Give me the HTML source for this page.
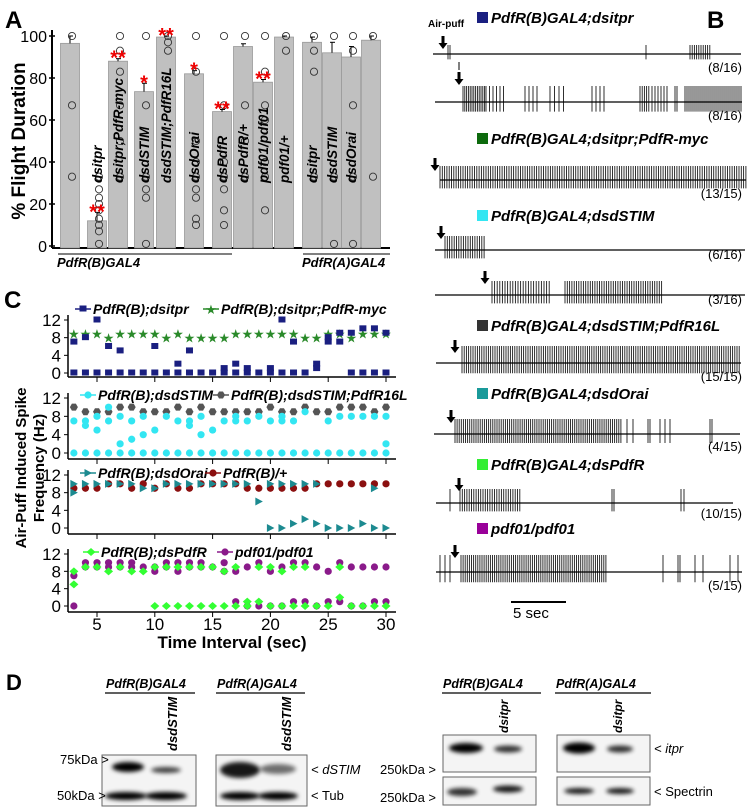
<!DOCTYPE html>
<html><head><meta charset="utf-8"><style>
body{margin:0;background:#fff}
svg{display:block;font-family:"Liberation Sans",sans-serif}
.it{font-style:italic;font-weight:bold}
</style></head><body>
<svg id="s" width="751" height="810" viewBox="0 0 751 810">
<defs>
<filter id="bl" x="-30%" y="-100%" width="160%" height="300%"><feGaussianBlur stdDeviation="2.2"/></filter>
</defs>
<g id="pA"></g>
<g id="pB"></g>
<g id="pC"></g>
<g id="pD"></g>
</svg>
<script>
// ---------- Panel A data ----------
const aLabels=["","dsitpr","dsitpr;PdfR-myc","dsdSTIM","dsdSTIM;PdfR16L","dsdOrai","dsPdfR","dsPdfR/+","pdf01/pdf01","pdf01/+","dsitpr","dsdSTIM","dsdOrai",""];
const aValues=[96.5,12,88,73.5,99.5,82,64,95,78,99.5,97,92,90,98];
const aErrors=[3.5,4,1.2,4,0.5,1.5,1,1.3,1.3,0.5,2.5,5,5,2];
const aStars=["","**","**","*","**","*","**","","**","","","","",""];
const aPoints=[[100,67,33],[33,27,23,20,17,13,10,7,1],[100,93,83,67,50,33],[100,67,33,27,23,1],[100,97,93],[100,83,50,40,33,27,23,13,10],[100,67,40,33,27,17,10],[100,67,50,33],[100,83,67,60,40,33,17],[100,93],[100,93,83,33],[100,33,1],[100,93,67,33,1],[100,33]];
const aTicks=[0,20,40,60,80,100];
// ---------- Panel C data ----------
const cSec=[3,4,5,6,7,8,9,10,11,12,13,14,15,16,17,18,19,20,21,22,23,24,25,26,27,28,29,30];
const cTicks=[5,10,15,20,25,30];
const cYTicks=[0,4,8,12];
const s1a=[[7,0],[8,0],[12,0],[6,0],[5,0],[0],[0],[6,0],[0],[2,0],[5,0],[0],[0],[1,0],[2,0],[1,0],[0],[1,0],[12,0],[7,0],[0],[2,1],[8,7],[9,7],[9,0],[10,0],[10,0],[9,0]];
const s1b=[[9],[9],[9],[8],[9],[9],[9],[9],[8],[9],[8],[8],[8],[8],[9],[9],[9],[9],[9],[9],[8],[8],[9],[9],[8],[9],[9],[9]];
const s2a=[[7,0],[7,6,0],[8,5,0],[10,7,0],[8,2,0],[7,3,0],[8,4,0],[5,0],[8,0],[7,0],[7,6,0],[8,4,0],[5,0],[7,0],[8,7,0],[7,0],[8,0],[7,0],[8,7,0],[7,0],[9,0],[0],[7,0],[8,0],[8,0],[8,0],[8,0],[8,2,0]];
const s2b=[[10],[9],[9],[9],[10],[10],[9],[9],[9],[10],[9],[10],[9],[9],[9],[9],[9],[10],[9],[9],[10],[9],[9],[10],[10],[10],[9],[10]];
const s3a=[[10,8],[10],[10],[10],[10],[10],[9],[9],[10],[10],[10],[10],[10],[10],[10],[10],[6],[10,0],[10,0],[10,1],[10,2],[10,1],[0],[0],[0],[1],[9,0],[0]];
const s3b=[[9],[9],[9],[10],[10],[9],[10],[9],[10],[9],[9],[10],[10],[10],[10],[9],[9],[9],[9],[9],[9],[10],[10],[10],[10],[10],[10],[10]];
const s4a=[[8,5],[9],[9],[8],[9],[8],[8],[9,0],[9,0],[9,0],[9,0],[9,0],[9,0],[8,0],[9,0],[1,0],[9,1],[9,0],[8,0],[9,0],[9,0],[0],[0],[9,2],[0],[0],[0],[0]];
const s4b=[[7,0],[10,9],[10,9],[10,9],[10,9],[10,9],[9],[9,8],[10,9],[10,8],[10,9],[10,9],[9],[10,8],[8,1],[9,0],[10,0],[8,0],[9,0],[10,1],[10,1],[9,0],[8,1],[10,1],[9,0],[9,0],[9,1],[9,1]];

const NS="http://www.w3.org/2000/svg";
function E(p,t,a,name){const e=document.createElementNS(NS,t);for(const k in a)e.setAttribute(k,a[k]);


p.appendChild(e);return e;}
function T(p,x,y,s,txt,o,name){o=o||{};const a={x:x,y:y,'font-size':s};for(const k in o)a[k]=o[k];const e=E(p,'text',a,name||'label');e.textContent=txt;return e;}

// ---------- Panel A ----------
const A=document.getElementById('pA');
const ay=v=>246-v*2.1; const ax=i=>[70,97,118,144,166,194,222,243,263,284,312,332,351,371][i];
T(A,5,28,24,"A",{'font-weight':'bold'},'panel-a-letter');
T(A,0,0,19,"% Flight Duration",{'font-weight':'bold',transform:'translate(25,141) rotate(-90)','text-anchor':'middle'},'y-axis-title');
E(A,'line',{x1:52,y1:30,x2:52,y2:248,stroke:'#000','stroke-width':2},'y-axis');
E(A,'line',{x1:52,y1:248,x2:390,y2:248,stroke:'#000','stroke-width':2},'x-axis');
aTicks.forEach(v=>{E(A,'line',{x1:49,x2:55,y1:ay(v),y2:ay(v),stroke:'#000','stroke-width':1.5},'y-tick');T(A,47,ay(v)+6,16,String(v),{'text-anchor':'end'},'y-tick-label');});
aValues.forEach((v,i)=>{const c=ax(i);
E(A,'rect',{x:c-9.5,y:ay(v),width:19,height:ay(0)-ay(v)+2,fill:'#c0c0c0',stroke:'#999','stroke-width':0.8},'bar-'+i);
E(A,'line',{x1:c,x2:c,y1:ay(v),y2:ay(v+aErrors[i]),stroke:'#000'},'error-bar');
E(A,'line',{x1:c-2,x2:c+3,y1:ay(v+aErrors[i]),y2:ay(v+aErrors[i]),stroke:'#000'},'error-cap');
aPoints[i].forEach(p=>E(A,'circle',{cx:c+2,cy:ay(p),r:3.6,fill:'none',stroke:'#333','stroke-width':0.9},'data-point'));
if(aStars[i])T(A,c,ay(v+aErrors[i])+6,20,aStars[i],{fill:'#e00','text-anchor':'middle','font-weight':'bold'},'significance-star');
if(aLabels[i]){T(A,0,0,13.5,aLabels[i],{class:'it',transform:`translate(${c+5},183) rotate(-90)`},'bar-label');}
});
E(A,'line',{x1:58,x2:232,y1:254,y2:254,stroke:'#000'},'group-line-b');
T(A,57,267,13,"PdfR(B)GAL4",{class:'it'},'group-label-b');
E(A,'line',{x1:303,x2:390,y1:254,y2:254,stroke:'#000'},'group-line-a');
T(A,302,267,13,"PdfR(A)GAL4",{class:'it'},'group-label-a');

// ---------- Panel C ----------
const C=document.getElementById('pC');
const cx=s=>97+(s-5)*11.56;
T(C,4,308,24,"C",{'font-weight':'bold'},'panel-c-letter');
T(C,0,0,15,"Air-Puff Induced Spike",{'font-weight':'bold',transform:'translate(26,468) rotate(-90)','text-anchor':'middle'},'y-axis-title-1');
T(C,0,0,15,"Frequency (Hz)",{'font-weight':'bold',transform:'translate(44,468) rotate(-90)','text-anchor':'middle'},'y-axis-title-2');
function marker(p,shape,col,x,y){
 if(shape=='sq')E(p,'rect',{x:x-3.5,y:y-3.5,width:7,height:6,fill:col},'marker-square');
 else if(shape=='star')T(p,x,y+5,13,"★",{fill:col,'text-anchor':'middle'},'marker-star');
 else if(shape=='ci')E(p,'circle',{cx:x,cy:y,r:3.6,fill:col},'marker-circle');
 else if(shape=='hex')E(p,'polygon',{points:`${x-4},${y} ${x-2},${y-3.5} ${x+2},${y-3.5} ${x+4},${y} ${x+2},${y+3.5} ${x-2},${y+3.5}`,fill:col},'marker-hexagon');
 else if(shape=='tri')E(p,'polygon',{points:`${x-3.5},${y-4} ${x+4},${y} ${x-3.5},${y+4}`,fill:col},'marker-triangle');
 else if(shape=='dia')E(p,'polygon',{points:`${x},${y-4} ${x+4.5},${y} ${x},${y+4} ${x-4.5},${y}`,fill:col},'marker-diamond');
}
const subs=[
 {top:320,bot:373,axis:377,A:s1a,B:s1b,sa:'sq',ca:'#1a1f80',sb:'star',cb:'#2a8a2a',la:"PdfR(B);dsitpr",lb:"PdfR(B);dsitpr;PdfR-myc",lx:[75,203],ly:309},
 {top:398,bot:453,axis:459,A:s2a,B:s2b,sa:'ci',ca:'#33e6f2',sb:'hex',cb:'#555',la:"PdfR(B);dsdSTIM",lb:"PdfR(B);dsdSTIM;PdfR16L",lx:[80,213],ly:395},
 {top:475,bot:528,axis:534,A:s3a,B:s3b,sa:'tri',ca:'#1c8a90',sb:'ci',cb:'#8b1010',la:"PdfR(B);dsdOrai",lb:"PdfR(B)/+",lx:[80,205],ly:473},
 {top:554,bot:606,axis:612,A:s4a,B:s4b,sa:'dia',ca:'#33ff33',sb:'ci',cb:'#8a1a8a',la:"PdfR(B);dsPdfR",lb:"pdf01/pdf01",lx:[83,217],ly:552}];
subs.forEach((sp,k)=>{
 const g=E(C,'g',{},'subplot-'+(k+1));
 const yy=v=>sp.bot-(v/12)*(sp.bot-sp.top);
 E(g,'line',{x1:68,y1:sp.top-5,x2:68,y2:sp.axis,stroke:'#000','stroke-width':1.5},'y-axis');
 E(g,'line',{x1:68,y1:sp.axis,x2:396,y2:sp.axis,stroke:'#000','stroke-width':1.5},'x-axis');
 cYTicks.forEach(v=>{E(g,'line',{x1:64,x2:68,y1:yy(v),y2:yy(v),stroke:'#000'},'y-tick');T(g,61,yy(v)+6,17,String(v),{'text-anchor':'end'},'y-tick-label');});
 cTicks.forEach(s=>E(g,'line',{x1:cx(s),x2:cx(s),y1:sp.axis,y2:sp.axis+5,stroke:'#000'},'x-tick'));
 sp.B.forEach((vs,i)=>vs.forEach(v=>marker(g,sp.sb,sp.cb,cx(cSec[i]),yy(v))));
 sp.A.forEach((vs,i)=>vs.forEach(v=>marker(g,sp.sa,sp.ca,cx(cSec[i]),yy(v))));
 const [x1,x2]=sp.lx,ly=sp.ly;
 E(g,'line',{x1:x1,x2:x1+16,y1:ly,y2:ly,stroke:sp.ca,'stroke-width':1.5},'legend-line');marker(g,sp.sa,sp.ca,x1+8,ly);
 T(g,x1+18,ly+5,14,sp.la,{class:'it'},'legend-entry');
 E(g,'line',{x1:x2,x2:x2+16,y1:ly,y2:ly,stroke:sp.cb,'stroke-width':1.5},'legend-line');marker(g,sp.sb,sp.cb,x2+8,ly);
 T(g,x2+18,ly+5,14,sp.lb,{class:'it'},'legend-entry');
});
cTicks.forEach(s=>T(C,cx(s),630,17,String(s),{'text-anchor':'middle'},'x-tick-label'));
T(C,232,648,17,"Time Interval (sec)",{'font-weight':'bold','text-anchor':'middle'},'x-axis-title');

// ---------- Panel B ----------
const B=document.getElementById('pB');
const traceDefs=[
 {y:54,x0:433,x1:741,h:9,bursts:[[448,450,2],[646,647,2],[690,712,2.2]]},
 {y:102,x0:435,x1:742,h:16,bursts:[[463,485,1.8],[486,505,3.5],[525,540,4],[550,565,4.5],[592,605,4],[640,650,2.2],[652,668,3],[675,677,2],[685,742,2]]},
 {y:180,x0:440,x1:746,h:14,bursts:[[440,746,2.3]]},
 {y:250,x0:435,x1:745,h:14,bursts:[[445,485,2.3]]},
 {y:295,x0:435,x1:745,h:14,bursts:[[492,550,2.6],[565,662,2.3]]},
 {y:363,x0:436,x1:741,h:17,bursts:[[462,741,2.2]]},
 {y:434,x0:434,x1:740,h:15,bursts:[[455,622,2.1],[627,633,6],[648,650,2],[660,672,5],[710,712,2]]},
 {y:503,x0:436,x1:733,h:14,bursts:[[450,451,2],[460,522,2.3],[612,614,2],[681,684,3]]},
 {y:572,x0:436,x1:742,h:17,bursts:[[440,450,5],[461,606,2.1],[663,664,2],[678,680,2],[695,710,8],[730,742,8]]}];
const titles=[["PdfR(B)GAL4;dsitpr","#1a1f80",22],["PdfR(B)GAL4;dsitpr;PdfR-myc","#0d6a0d",143],["PdfR(B)GAL4;dsdSTIM","#33e6f2",220],["PdfR(B)GAL4;dsdSTIM;PdfR16L","#333",330],["PdfR(B)GAL4;dsdOrai","#1a9a9a",398],["PdfR(B)GAL4;dsPdfR","#33ee33",469],["pdf01/pdf01","#990099",533]];
const counts=[["(8/16)",72],["(8/16)",120],["(13/15)",198],["(6/16)",259],["(3/16)",304],["(15/15)",381],["(4/15)",451],["(10/15)",518],["(5/15)",590]];
const arrows=[[443,36],[459,72],[435,158],[441,226],[485,271],[455,340],[451,410],[459,478],[455,545]];
T(B,707,28,24,"B",{'font-weight':'bold'},'panel-b-letter');
T(B,428,27,10,"Air-puff",{'font-weight':'bold'},'air-puff-label');
titles.forEach(t=>{E(B,'rect',{x:477,y:t[2]-10,width:11,height:11,fill:t[1]},'genotype-swatch');T(B,491,t[2]+1,15,t[0],{class:'it'},'trace-title');});
counts.forEach(c=>T(B,742,c[1],13,c[0],{'text-anchor':'end'},'trace-count'));
traceDefs.forEach((d,k)=>{
 const g=E(B,'g',{},'trace-'+(k+1));
 let p='';
 d.bursts.forEach(b=>{for(let x=b[0];x<=b[1];x+=b[2])p+=`M${x.toFixed(1)},${d.y-d.h}V${d.y+d.h*0.6}`;});
 E(g,'path',{d:p,stroke:'#1a1a1a','stroke-width':0.9,fill:'none'},'spikes');
 E(g,'line',{x1:d.x0,x2:d.x1,y1:d.y,y2:d.y,stroke:'#000','stroke-width':1.2},'baseline');
});
E(B,'line',{x1:459,x2:459,y1:62,y2:70,stroke:'#000','stroke-width':1},'small-arrow');
arrows.forEach(a=>{E(B,'path',{d:`M${a[0]-1.5},${a[1]}h3v7h3l-4.5,6l-4.5,-6h3z`,fill:'#000'},'air-puff-arrow');});
E(B,'line',{x1:511,x2:566,y1:602,y2:602,stroke:'#000','stroke-width':2},'scale-bar');
T(B,513,618,15,"5 sec",{},'scale-bar-label');

// ---------- Panel D ----------
const D=document.getElementById('pD');
T(D,6,690,22,"D",{'font-weight':'bold'},'panel-d-letter');
function hdr(x1,x2,txt){T(D,x1+1,688,12.5,txt,{class:'it'},'blot-header');E(D,'line',{x1:x1,x2:x2,y1:693,y2:693,stroke:'#000','stroke-width':1.3},'blot-header-line');}
hdr(105,195,"PdfR(B)GAL4");hdr(216,305,"PdfR(A)GAL4");hdr(442,541,"PdfR(B)GAL4");hdr(555,651,"PdfR(A)GAL4");
function blot(x,y,w,h,bands){const g=E(D,'g',{},'blot');E(g,'rect',{x:x,y:y,width:w,height:h,fill:'#f4f4f4',stroke:'#666','stroke-width':1},'blot-box');
 bands.forEach(b=>E(g,'ellipse',{cx:b[0],cy:b[1],rx:b[2],ry:b[3],fill:'#000',opacity:b[4],filter:'url(#bl)'},'band'));}
blot(102,755,94,51,[[128,767,16,5,1],[166,770,15,3,0.75],[126,796,21,4,1],[166,796,21,4,1]]);
blot(216,755,91,51,[[240,770,20,8,0.9],[278,769,18,5,0.55],[240,796,20,4,1],[278,796,20,4,1]]);
blot(443,735,93,37,[[466,748,17,5,1],[508,749,14,3.5,0.8]]);
blot(443,777,93,28,[[462,792,15,4,0.8],[508,789,15,3.5,0.9]]);
blot(557,735,93,37,[[579,748,16,5.5,1],[620,749,13,3.5,0.8]]);
blot(557,777,93,28,[[579,791,15,3,0.9],[620,791,14,3,0.9]]);
[[177,751,"dsdSTIM",13],[291,751,"dsdSTIM",13],[508,733,"dsitpr",12],[622,733,"dsitpr",12]].forEach(l=>T(D,0,0,l[3],l[2],{class:'it',transform:`translate(${l[0]},${l[1]}) rotate(-90)`},'lane-label'));
T(D,60,764,13,"75kDa >",{},'marker-label');T(D,57,800,13,"50kDa >",{},'marker-label');
T(D,311,774,13,"< dSTIM",{'font-style':'italic'},'band-label');T(D,311,800,13,"< Tub",{},'band-label');
T(D,380,774,13,"250kDa >",{},'marker-label');T(D,380,802,13,"250kDa >",{},'marker-label');
T(D,654,753,13,"< itpr",{'font-style':'italic'},'band-label');T(D,654,796,13,"< Spectrin",{},'band-label');
</script>
</body></html>
